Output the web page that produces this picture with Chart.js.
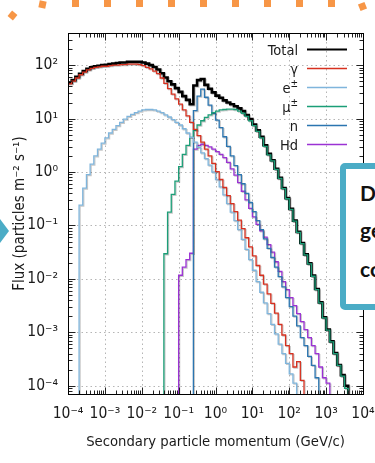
<!DOCTYPE html>
<html>
<head>
<meta charset="utf-8">
<title>Flux des particules secondaires</title>
<script src="https://cdn.jsdelivr.net/npm/chart.js@4.4.1/dist/chart.umd.min.js"></script>
<style>
    html, body { margin: 0; padding: 0; background: #fff; overflow: hidden; }
    #wrap { position: relative; width: 375px; height: 463px; overflow: hidden; }
    #chart { position: absolute; left: 0; top: 0; }
    .dot { position: absolute; width: 7px; height: 7px; background: #f79646; }
    #arrow { position: absolute; left: 0; top: 219px; width: 9px; height: 24px; background: #4bacc6;
             clip-path: polygon(0 0, 100% 50%, 0 100%); }
    #callout { position: absolute; left: 340px; top: 163px; width: 80px; height: 135px;
               border: 6px solid #4bacc6; border-radius: 5px; background: #fff;
               font: bold 21px Lato, sans-serif; line-height: 21px; color: #111; }
    #callout div { position: absolute; left: 14px; white-space: nowrap; }
</style>
</head>
<body>
<div id="wrap">
    <canvas id="chart" width="375" height="463"></canvas>

    <!-- decoration autour du graphique -->
    <div class="dot" style="left:9px;top:12px;transform:rotate(40deg)"></div>
    <div class="dot" style="left:39px;top:1px;transform:rotate(12deg)"></div>
    <div class="dot" style="left:72px;top:0px"></div>
    <div class="dot" style="left:104px;top:0px"></div>
    <div class="dot" style="left:136px;top:0px"></div>
    <div class="dot" style="left:168px;top:0px"></div>
    <div class="dot" style="left:200px;top:0px"></div>
    <div class="dot" style="left:232px;top:0px"></div>
    <div class="dot" style="left:264px;top:0px"></div>
    <div class="dot" style="left:296px;top:0px"></div>
    <div class="dot" style="left:328px;top:0px"></div>
    <div class="dot" style="left:359px;top:3px;transform:rotate(-22deg)"></div>
    <div id="arrow"></div>
    <div id="callout">
        <div style="top:13px">D</div>
        <div style="top:50px">ge</div>
        <div style="top:89px">co</div>
    </div>
</div>

<script>
// Données (histogramme, 10 classes par décade)
const binsPerDecade = 10;
const firstDecade = -4;
const binEdges = Array.from({length: 81}, (_, k) => Math.pow(10, firstDecade + k / binsPerDecade));

const xDecades = [1e-4, 1e-3, 1e-2, 1e-1, 1, 10, 100, 1e3, 1e4];
const xTickLabels = ['10⁻⁴', '10⁻³', '10⁻²', '10⁻¹', '10⁰', '10¹', '10²', '10³', '10⁴'];
const yDecades = [1e-4, 1e-3, 1e-2, 1e-1, 1, 10, 100];
const yTickLabels = ['10⁻⁴', '10⁻³', '10⁻²', '10⁻¹', '10⁰', '10¹', '10²'];

const xTitle = 'Secondary particle momentum (GeV/c)';
const yTitle = 'Flux (particles m⁻² s⁻¹)';

const seriesLabels = ['Total', 'γ', 'e±', 'μ±', 'n', 'Hd'];
// indice de la premiere classe non vide de chaque serie
const seriesStart = [0, 0, 3, 26, 34, 30];

const totalFlux = [
    46.8, 52.5, 60.3, 69.2, 77.6, 85.1, 91.2, 95.5, 97.7, 100,
    102, 105, 107, 110, 112, 112, 115, 115, 115, 115,
    112, 107, 100, 92.3, 83.2, 70.8, 58.9, 50.1, 43.7, 37.2,
    31.6, 26.3, 22.4, 18.6, 41.7, 52.5, 55.0, 42.7, 36.3, 30.9,
    26.9, 24.5, 21.9, 20.0, 18.6, 17.0, 15.5, 13.8, 11.7, 9.77,
    7.76, 6.03, 4.57, 3.16, 2.19, 1.66, 1.15, 0.776, 0.501, 0.324,
    0.204, 0.123, 0.0759, 0.0468, 0.0288, 0.0195, 0.0115, 0.00646, 0.00363, 0.00191,
    0.00112, 6.76e-4, 4.07e-4, 2.45e-4, 1.58e-4, 1.00e-4
];
const gammaFlux = [
    44.7, 50.1, 57.5, 66.1, 74.1, 81.3, 87.1, 91.2, 93.3, 95.5,
    95.5, 97.7, 100, 100, 102, 102, 105, 105, 105, 102,
    97.7, 91.2, 85.1, 77.6, 69.2, 57.5, 45.7, 36.3, 28.8, 23.4,
    18.6, 14.5, 11.2, 8.51, 6.31, 4.79, 3.63, 2.69, 2.00, 1.45,
    1.02, 0.724, 0.513, 0.363, 0.257, 0.182, 0.126, 0.0871, 0.0589, 0.0398,
    0.0269, 0.0178, 0.0117, 0.00794, 0.00525, 0.00347, 0.00229, 0.00141, 8.91e-4, 5.62e-4,
    3.98e-4, 2.24e-4, 2.82e-4, 1.26e-4
];
const electronFlux = [
    0.240, 0.501, 0.891, 1.41, 2.00, 2.69, 3.47,
    4.37, 5.37, 6.31, 7.41, 8.51, 9.77, 11.0, 12.0, 12.9, 13.8,
    14.5, 14.8, 14.8, 14.5, 13.8, 12.9, 11.7, 10.7, 9.55, 8.51,
    7.59, 6.46, 5.37, 4.47, 3.63, 2.88, 2.29, 1.78, 1.35, 1.00,
    0.724, 0.525, 0.372, 0.257, 0.178, 0.123, 0.0832, 0.0550, 0.0355, 0.0229,
    0.0145, 0.00891, 0.00562, 0.00355, 0.00224, 0.00141, 9.33e-4, 6.03e-4, 3.98e-4, 2.63e-4,
    1.66e-4, 1.12e-4
];
const muonFlux = [
    0.0295, 0.178, 0.380, 0.676,
    1.26, 2.14, 3.16, 4.47, 6.03, 7.59, 9.12, 10.5, 11.7, 12.9,
    13.8, 14.5, 14.8, 15.1, 15.1, 14.8, 13.8, 12.6, 11.0, 9.12,
    7.41, 5.75, 4.37, 3.02, 2.09, 1.62, 1.12, 0.759, 0.490, 0.316,
    0.200, 0.120, 0.0741, 0.0457, 0.0282, 0.0191, 0.0112, 0.00631, 0.00355, 0.00186,
    0.00110, 6.61e-4, 3.98e-4, 2.40e-4, 1.51e-4, 8.91e-5
];
const neutronFlux = [
    14.1, 26.3, 35.5, 25.1, 17.8, 12.6,
    9.33, 6.76, 4.57, 3.02, 2.00, 1.32, 0.891, 0.603, 0.398, 0.269,
    0.182, 0.123, 0.0832, 0.0562, 0.0372, 0.0251, 0.0166, 0.0110, 0.00708, 0.00447,
    0.00302, 0.00200, 0.00132, 7.94e-4, 5.62e-4, 3.55e-4, 2.40e-4, 1.41e-4
];
const hadronFlux = [
    0.0117, 0.0166, 0.0229, 0.0302, 2.69, 3.16, 3.31, 3.16, 2.95, 2.69,
    2.40, 2.14, 1.86, 1.51, 1.15, 0.871, 0.631, 0.437, 0.302, 0.209,
    0.145, 0.105, 0.0794, 0.0603, 0.0437, 0.0316, 0.0209, 0.0138, 0.00891, 0.00631,
    0.00447, 0.00316, 0.00224, 0.00158, 0.00112, 7.94e-4, 5.62e-4, 3.98e-4, 2.24e-4, 1.41e-4,
    1.12e-4
];
const seriesValues = [totalFlux, gammaFlux, electronFlux, muonFlux, neutronFlux, hadronFlux];

// styles
const seriesColors = ['#000000', '#d7301f', '#7fb5dc', '#1b9e77', '#2b75b0', '#9b32d4'];
const FONT = "'DejaVu Sans Condensed', 'DejaVu Sans', sans-serif";
const TEXT_COLOR = '#1a1a1a';
const FLOOR = 1e-7; // sous l'axe : sert juste a fermer les marches de l'histogramme

function histogram(start, values) {
    const pts = [];
    if (start > 0) {
        pts.push({x: binEdges[start], y: FLOOR});
    }
    values.forEach(function(v, i) {
        pts.push({x: binEdges[start + i], y: v});
    });
    const end = start + values.length;
    pts.push({x: binEdges[end], y: values[values.length - 1]});
    pts.push({x: binEdges[end], y: FLOOR});
    return pts;
}

// Cadre, grille pointillee et graduations vers l'interieur
const frameAndTicks = {
    id: 'frameAndTicks',
    beforeDatasetsDraw(chart) {
        const {ctx, chartArea: a, scales: {x, y}} = chart;
        ctx.save();
        ctx.strokeStyle = '#b5b5b5';
        ctx.lineWidth = 1;
        ctx.setLineDash([1.5, 3]);
        xDecades.forEach(function(v) {
            const px = Math.round(x.getPixelForValue(v)) + 0.5;
            if (px > a.left + 2 && px < a.right - 2) {
                ctx.beginPath();
                ctx.moveTo(px, a.top);
                ctx.lineTo(px, a.bottom);
                ctx.stroke();
            }
        });
        yDecades.forEach(function(v) {
            const py = Math.round(y.getPixelForValue(v)) + 0.5;
            if (py > a.top + 2 && py < a.bottom - 2) {
                ctx.beginPath();
                ctx.moveTo(a.left, py);
                ctx.lineTo(a.right, py);
                ctx.stroke();
            }
        });
        ctx.restore();
    },
    afterDatasetsDraw(chart) {
        const {ctx, chartArea: a, scales: {x, y}} = chart;
        const left = Math.floor(a.left) + 0.5;
        const right = Math.floor(a.right) + 0.5;
        const top = Math.floor(a.top) + 0.5;
        const bottom = Math.floor(a.bottom) + 0.5;
        ctx.save();
        ctx.strokeStyle = '#222';
        ctx.lineWidth = 1;

        for (let d = -4; d <= 3; d++) {
            for (let m = 1; m <= 9; m++) {
                const px = Math.round(x.getPixelForValue(m * Math.pow(10, d))) + 0.5;
                const len = m === 1 ? 7 : 4;
                ctx.beginPath();
                ctx.moveTo(px, bottom); ctx.lineTo(px, bottom - len);
                ctx.moveTo(px, top); ctx.lineTo(px, top + len);
                ctx.stroke();
            }
        }
        for (let d = -5; d <= 2; d++) {
            for (let m = 1; m <= 9; m++) {
                const v = m * Math.pow(10, d);
                if (v < y.min || v > y.max) continue;
                const py = Math.round(y.getPixelForValue(v)) + 0.5;
                const len = m === 1 ? 7 : 4;
                ctx.beginPath();
                ctx.moveTo(left, py); ctx.lineTo(left + len, py);
                ctx.moveTo(right, py); ctx.lineTo(right - len, py);
                ctx.stroke();
            }
        }
        ctx.strokeStyle = '#000';
        ctx.strokeRect(left, top, right - left, bottom - top);
        ctx.restore();
    },
    beforeDatasetDraw(chart) {
        const ctx = chart.ctx;
        ctx.save();
        ctx.shadowColor = 'rgba(0, 0, 0, 0.22)';
        ctx.shadowOffsetX = 1;
        ctx.shadowOffsetY = 1;
        ctx.shadowBlur = 0;
    },
    afterDatasetDraw(chart) {
        chart.ctx.restore();
    }
};

// Legende facon gnuplot : texte a droite, echantillon de trait apres
const rightLegend = {
    id: 'rightLegend',
    afterDraw(chart) {
        const ctx = chart.ctx;
        const textRight = 298;
        const lineFrom = 307;
        const lineTo = 347;
        ctx.save();
        seriesLabels.forEach(function(label, i) {
            const ly = 49.5 + 19 * i;
            ctx.strokeStyle = seriesColors[i];
            ctx.lineWidth = i === 0 ? 2 : 1.5;
            ctx.beginPath();
            ctx.moveTo(lineFrom, ly);
            ctx.lineTo(lineTo, ly);
            ctx.stroke();

            ctx.fillStyle = TEXT_COLOR;
            ctx.textAlign = 'right';
            ctx.textBaseline = 'alphabetic';
            let base = label;
            let x = textRight;
            if (label.endsWith('±')) {
                base = label.slice(0, -1);
                ctx.font = '10px ' + FONT;
                ctx.fillText('±', x, ly - 1);
                x -= ctx.measureText('±').width;
            }
            ctx.font = '14.5px ' + FONT;
            ctx.fillText(base, x, ly + 5.5);
        });
        ctx.restore();
    }
};

document.addEventListener('DOMContentLoaded', function() {
    const datasets = seriesLabels.map(function(label, i) {
        return {
            label: label,
            data: histogram(seriesStart[i], seriesValues[i]),
            borderColor: seriesColors[i],
            borderWidth: i === 0 ? 2.6 : 1.3,
            stepped: true,
            pointRadius: 0,
            fill: false,
            order: i === 0 ? 1 : 0
        };
    });

    new Chart(document.getElementById('chart'), {
        type: 'line',
        data: {datasets: datasets},
        plugins: [frameAndTicks, rightLegend],
        options: {
            responsive: false,
            animation: false,
            devicePixelRatio: 1,
            layout: {padding: {top: 33, right: 12, left: 0, bottom: 0}},
            plugins: {legend: {display: false}, tooltip: {enabled: false}},
            scales: {
                x: {
                    type: 'logarithmic',
                    position: 'bottom',
                    min: 1e-4,
                    max: 1e4,
                    grid: {display: false, drawTicks: false},
                    border: {display: false},
                    afterBuildTicks: function(s) {
                        s.ticks = xDecades.map(function(v) { return {value: v}; });
                    },
                    afterFit: function(s) {
                        s.height = 69;
                        s.paddingLeft = 0;
                        s.paddingRight = 0;
                    },
                    ticks: {
                        autoSkip: false, maxRotation: 0, minRotation: 0, padding: 11,
                        color: TEXT_COLOR, font: {family: FONT, size: 15.5},
                        callback: function(v, i) { return xTickLabels[i]; }
                    },
                    title: {
                        display: true, text: xTitle, color: TEXT_COLOR,
                        font: {family: FONT, size: 14.7}, padding: {top: 0, bottom: 12}
                    }
                },
                y: {
                    type: 'logarithmic',
                    position: 'left',
                    min: 7e-5,
                    max: 400,
                    grid: {display: false, drawTicks: false},
                    border: {display: false},
                    afterBuildTicks: function(s) {
                        s.ticks = yDecades.map(function(v) { return {value: v}; });
                    },
                    afterFit: function(s) {
                        s.width = 68;
                        s.paddingTop = 0;
                        s.paddingBottom = 0;
                    },
                    ticks: {
                        autoSkip: false, padding: 10,
                        color: TEXT_COLOR, font: {family: FONT, size: 15.5},
                        callback: function(v, i) { return yTickLabels[i]; }
                    },
                    title: {
                        display: true, text: yTitle, color: TEXT_COLOR,
                        font: {family: FONT, size: 15}, padding: {top: 11, bottom: 0}
                    }
                }
            }
        }
    });
});
</script>
</body>
</html>
